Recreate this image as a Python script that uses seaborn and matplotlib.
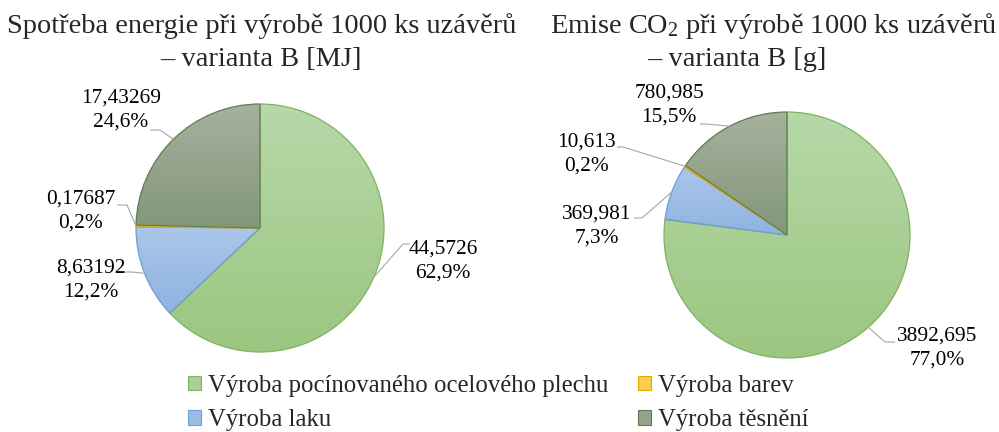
import numpy as np
import matplotlib.pyplot as plt
import seaborn as sns
from matplotlib.patches import Patch

# Data
categories = ["Výroba pocínovaného ocelového plechu", "Výroba laku",
              "Výroba barev", "Výroba těsnění"]
energy_mj = [44.5726, 8.63192, 0.17687, 17.43269]
co2_g = [3892.695, 369.981, 10.613, 780.985]
title_energy = ["Spotřeba energie při výrobě 1000 ks uzávěrů", "– varianta B [MJ]"]
title_co2 = ["Emise CO$_2$ při výrobě 1000 ks uzávěrů", "– varianta B [g]"]

# Styles: (gradient top, gradient bottom, edge)
shades = [("#b7d8a9", "#9bc680", "#7fb35f"),
          ("#abc7ea", "#8eb2e0", "#6a9fd8"),
          ("#ffd66b", "#ffc533", "#e8a800"),
          ("#a7b19d", "#82977a", "#5e7d50")]

W, H = 999, 432
FS_TITLE = 20.4
FS_TEXT = 15.4
FS_LEGEND = 17.8

sns.set_theme(style="white")
plt.rcParams['font.family'] = ['Liberation Serif', 'DejaVu Serif']
plt.rcParams['mathtext.fontset'] = 'custom'
plt.rcParams['mathtext.rm'] = 'Liberation Serif'
plt.rcParams['mathtext.it'] = 'Liberation Serif:italic'

# Layout in pixels: pie centre/radius, title centres, label (text x, text y, knee x, knee y, tail x)
layouts = [
    dict(cx=260, cy=228, r=124, title=title_energy, tx=(262, 261),
         labels=[(443, 261, 403, 244, 410), (91, 280, 132, 272, 124),
                 (81, 211, 127, 205, 117), (121, 110, 160, 130, 150)]),
    dict(cx=787, cy=235, r=123, title=title_co2, tx=(774, 737),
         labels=[(937, 348, 885, 342, 895), (597, 226, 642, 218, 634),
                 (586, 154, 623, 147, 617), (669, 105, 706, 124, 700)]),
]

fig = plt.figure(figsize=(W / 100, H / 100), dpi=100)
grad = np.linspace(0, 1, 256).reshape(-1, 1)


def fmt(v):
    return str(v).replace(".", ",")


for values, lay in zip([energy_mj, co2_g], layouts):
    cx, cy, r = lay['cx'], lay['cy'], lay['r']
    ax = fig.add_axes([0, 0, 1, 1])
    wedges, _ = ax.pie(values, colors=[s[0] for s in shades], startangle=90,
                       counterclock=False, radius=1, center=(0, 0),
                       wedgeprops=dict(linewidth=0.9))
    total = sum(values)
    for w, (top, bottom, edge) in zip(wedges, shades):
        bb = w.get_path().get_extents()
        cmap = sns.blend_palette([top, bottom], as_cmap=True)
        im = ax.imshow(grad, cmap=cmap, extent=[bb.x0, bb.x1, bb.y0, bb.y1],
                       aspect='auto', origin='upper', zorder=0.5, interpolation='bilinear')
        im.set_clip_path(w)
        w.set_facecolor('none')
        w.set_edgecolor(edge)

    for w, v, (tx, ty, kx, ky, tail) in zip(wedges, values, lay['labels']):
        ang = np.deg2rad((w.theta1 + w.theta2) / 2)
        ex, ey = np.cos(ang), np.sin(ang)
        px = lambda x: (x - cx) / r
        py = lambda y: (cy - y) / r
        ax.plot([ex, px(kx), px(tail)], [ey, py(ky), py(ky)], color="#a6a6a6",
                lw=0.8, zorder=3, solid_capstyle='butt')
        pct = f"{100 * v / total:.1f}%".replace(".", ",")
        ax.text(px(tx), py(ty), f"{fmt(v)}\n{pct}", ha='center', va='center',
                fontsize=FS_TEXT, linespacing=1.4, color="#000000", zorder=4)

    ax.set_aspect('auto')
    ax.set_xlim(-cx / r, (W - cx) / r)
    ax.set_ylim((cy - H) / r, cy / r)
    ax.axis('off')

    fig.text(lay['tx'][0] / W, 1 - 33 / H, lay['title'][0], ha='center',
             va='baseline', fontsize=FS_TITLE)
    fig.text(lay['tx'][1] / W, 1 - 66 / H, lay['title'][1], ha='center',
             va='baseline', fontsize=FS_TITLE)

handles = [Patch(facecolor=sns.blend_palette([s[0], s[1]], 3)[1], edgecolor=s[2], lw=0.8)
           for s in shades]
fig.legend(handles=handles, labels=categories, ncol=2, loc='upper left',
           bbox_to_anchor=(188 / W, 1 - 375 / H), frameon=False, fontsize=FS_LEGEND,
           handlelength=0.52, handleheight=0.52, handletextpad=0.28,
           columnspacing=1.2, labelspacing=0.5, borderpad=0, borderaxespad=0)

fig.savefig("out.png", dpi=100)
